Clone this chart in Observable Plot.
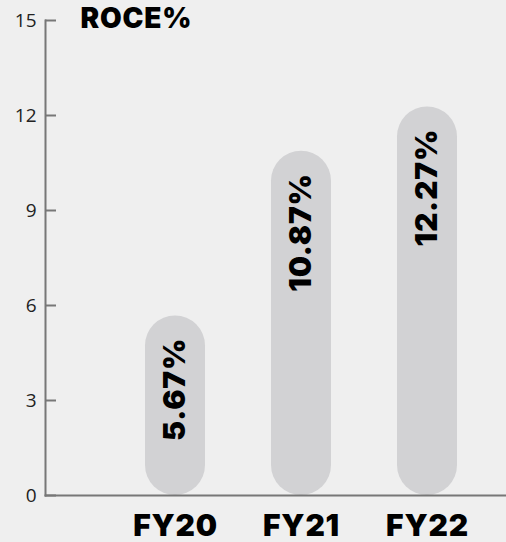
<!DOCTYPE html>
<html>
<head>
<meta charset="utf-8">
<script src="https://cdn.jsdelivr.net/npm/d3@7"></script>
<script src="https://cdn.jsdelivr.net/npm/@observablehq/plot@0.6"></script>
<style>
  html, body { margin: 0; padding: 0; background: #efefef; }
  #chart svg { display: block; background: #efefef; }
  #chart svg .heavy text { letter-spacing: 0.8px; }
  #chart svg g.yax, #chart svg g.yax text { font-size: 19px !important; font-family: 'Open Sans', sans-serif; }
</style>
</head>
<body>
<div id="chart"></div>
<script>
const years = ["FY20", "FY21", "FY22"];
const roce = [5.67, 10.87, 12.27];
const labels = ["5.67%", "10.87%", "12.27%"];
const yTicks = [0, 3, 6, 9, 12, 15];
const title = "ROCE%";

const data = years.map((y, i) => ({year: y, value: roce[i], label: labels[i]}));

const heavy = "Inter, 'DejaVu Sans', sans-serif";

const chart = Plot.plot({
  width: 506,
  height: 542,
  marginTop: 20,
  marginLeft: 45,
  marginRight: 0,
  marginBottom: 47,
  style: {background: "#efefef", fontFamily: "'Open Sans', sans-serif", overflow: "visible"},
  x: {domain: years, paddingInner: 0.526, paddingOuter: 0.585, align: 0.673, label: null},
  y: {domain: [0, 15], label: null},
  marks: [
    Plot.barY(data, {x: "year", y: "value", fill: "#d2d2d4", rx: 30}),
    Plot.frame({anchor: "left", stroke: "#777", strokeWidth: 2}),
    Plot.frame({anchor: "bottom", stroke: "#777", strokeWidth: 2}),
    Plot.axisY({ticks: yTicks, tickSize: 0, tickPadding: 9, fontSize: 19, fill: "#222", label: null, tickFormat: d => String(d), className: "yax"}),
    Plot.axisY({ticks: yTicks, tickSize: -11, text: null, stroke: "#777", strokeWidth: 2, label: null}),
    Plot.axisX({tickSize: 0, tickPadding: 19, fontSize: 30, fontWeight: 900, fontFamily: heavy, fill: "#000", label: null, className: "heavy"}),
    Plot.text(data, {x: "year", y: "value", text: "label", rotate: -90, textAnchor: "end", dy: 22, fontSize: 30, fontWeight: 900, fontFamily: heavy, fill: "#000", className: "heavy"}),
    Plot.text([title], {frameAnchor: "top-left", dx: 35, dy: -12, text: d => d, fontSize: 28, fontWeight: 900, fontFamily: heavy, fill: "#000", textAnchor: "start", lineAnchor: "top", className: "heavy"})
  ]
});
document.getElementById("chart").appendChild(chart);
</script>
</body>
</html>
